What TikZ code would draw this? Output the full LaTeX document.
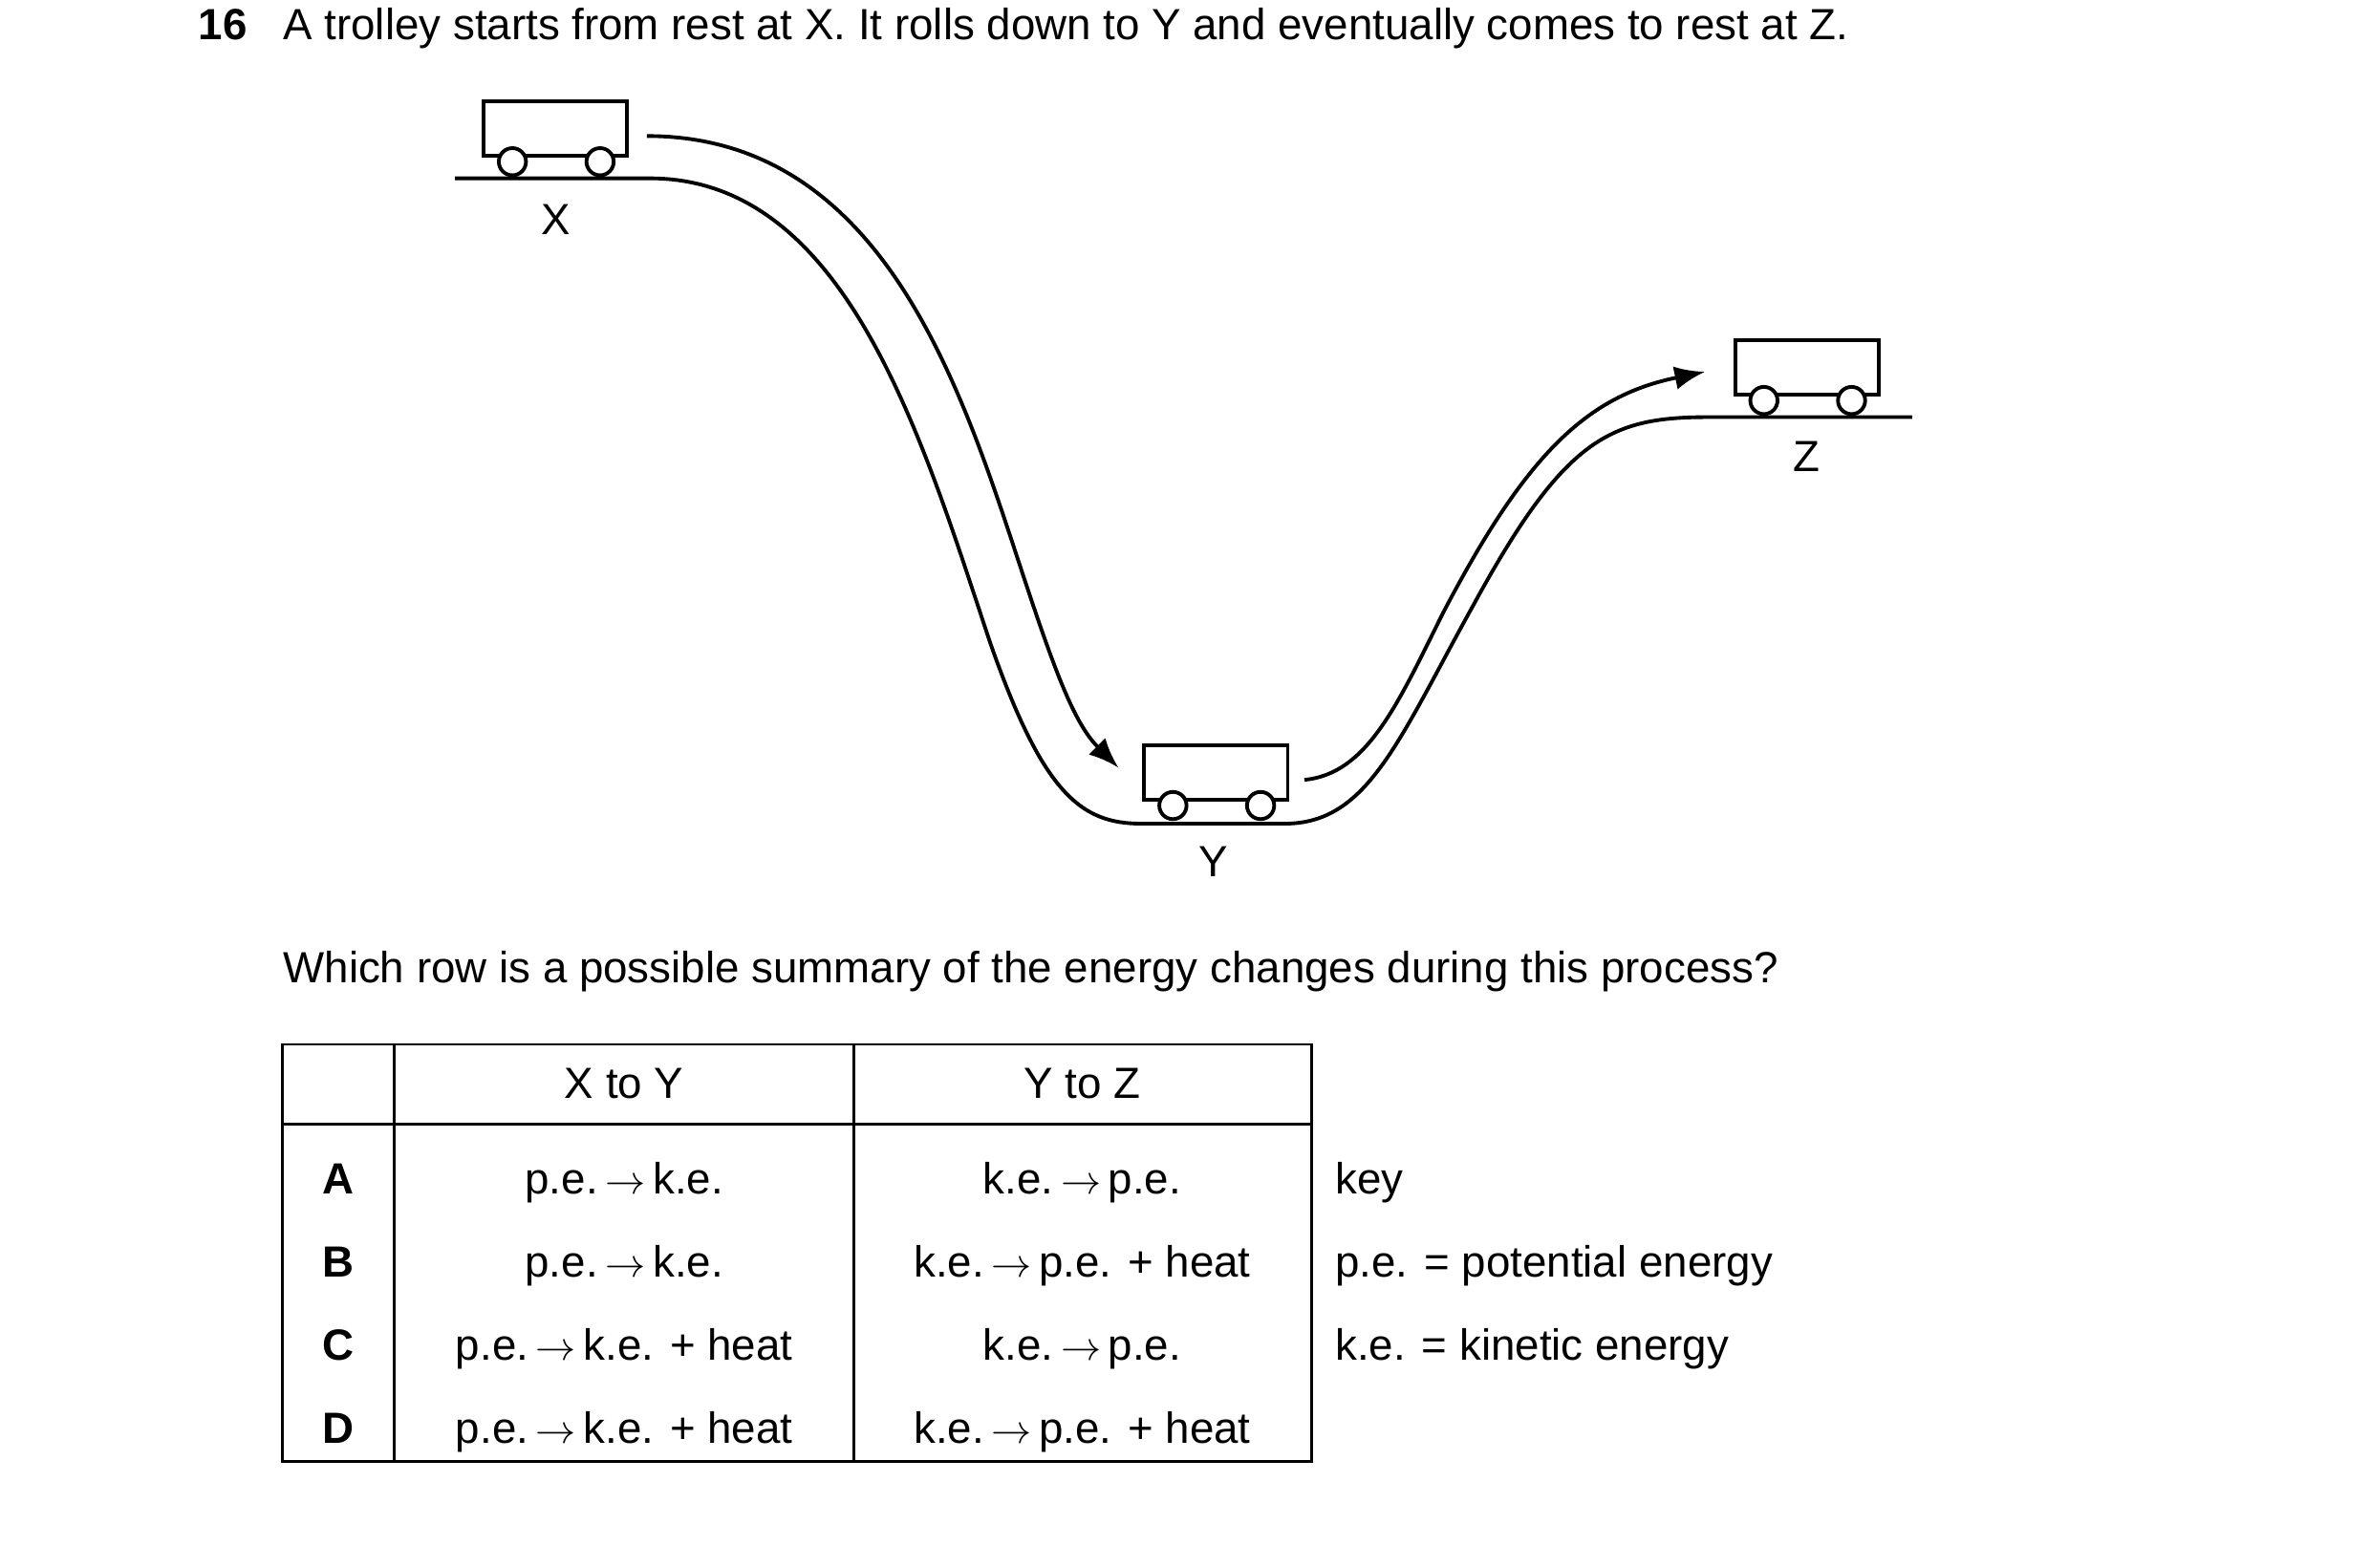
\documentclass[tikz,border=0pt]{standalone}
\usepackage{fontspec}
\setmainfont{Liberation Sans}
\usetikzlibrary{arrows.meta}
\tikzset{
  track/.style = {draw = black, line width = 1.1pt},
  % path with an arrow at its end
  arr/.style = {track, -{Latex[length=9pt,width=7pt]}},
  body/.style = {draw = black, line width = 1.1pt},
  wheel/.style = {draw = black, fill = white, line width = 1.1pt},
  txt/.style = {inner sep = 0, font = \fontsize{13}{15}\selectfont},
  cell/.style = {txt, anchor = base}
}
% trolley with its top left corner at (#2,#3)
\newcommand{\trolley}[3]{
  \draw[body] (#2,#3) rectangle ++(95,36);
  \draw[wheel] (#2+19,#3+40) circle (9);
  \draw[wheel] (#2+77,#3+40) circle (9);
  \coordinate (#1) at (#2+47,#3);
}
\newcommand{\ra}{\,$\rightarrow$\,}
\begin{document}
\begin{tikzpicture}[x=0.45pt, y=-0.45pt]
    \useasboundingbox (0,0) rectangle (1568,1037.5);

    \node[txt, anchor=base west, font=\fontsize{13}{15}\selectfont\bfseries] (num) at (131,26) {16};
    \node[txt, anchor=base west] (question) at (187,26) {A trolley starts from rest at X. It rolls down to Y and eventually comes to rest at Z.};

    % trolleys and ground
    \trolley{trolley-x}{320}{67}
    \trolley{trolley-y}{757}{493}
    \trolley{trolley-z}{1148}{225}
    \node[txt] (x) at (368,145) {X};
    \node[txt] (y) at (803,570) {Y};
    \node[txt] (z) at (1195,302) {Z};

    \coordinate (x-start) at (301,118);
    \coordinate (x-top) at (430,118);
    \coordinate (y-left) at (755,545);
    \coordinate (y-right) at (850,545);
    \coordinate (z-top) at (1130,276);
    \coordinate (z-end) at (1265,276);
    \draw[track] (x-start) -- (x-top)
      .. controls (560,118) and (610,290) .. (655,425)
      .. controls (690,525) and (715,545) .. (y-left) -- (y-right)
      .. controls (905,545) and (925,490) .. (975,400)
      .. controls (1035,290) and (1065,276) .. (z-top) -- (z-end);

    \coordinate (xy-from) at (428,90);
    \coordinate (xy-to) at (740,508);
    \coordinate (yz-from) at (863,516);
    \coordinate (yz-to) at (1128,246);
    \draw[arr] (xy-from) .. controls (590,90) and (640,270) .. (680,390)
      .. controls (700,450) and (712,480) .. (xy-to);
    \draw[arr] (yz-from) .. controls (905,512) and (925,465) .. (955,405)
      .. controls (1010,300) and (1050,262) .. (yz-to);

    \node[txt, anchor=base west] (ask) at (187,650) {Which row is a possible summary of the energy changes during this process?};

    % table
    \draw[line width=0.8pt] (187,691) rectangle (868,967);
    \draw[line width=0.8pt] (187,744) -- (868,744);
    \draw[line width=0.8pt] (261,691) -- (261,967);
    \draw[line width=0.8pt] (565,691) -- (565,967);
    \node[cell] (head-xy) at (413,727) {X to Y};
    \node[cell] (head-yz) at (716,727) {Y to Z};
    \foreach \row/\ya/\yb [count=\i] in {A/p.e.\ra k.e./k.e.\ra p.e.,
                                     B/p.e.\ra k.e./k.e.\ra p.e. + heat,
                                     C/p.e.\ra k.e. + heat/k.e.\ra p.e.,
                                     D/p.e.\ra k.e. + heat/k.e.\ra p.e. + heat} {
      \node[cell, font=\fontsize{13}{15}\selectfont\bfseries] (row-\i) at (224,735+55*\i) {\row};
      \node[cell] (xy-\i) at (413,735+55*\i) {\ya};
      \node[cell] (yz-\i) at (716,735+55*\i) {\yb};
    }
    \node[txt, anchor=base west] (key) at (883,790) {key};
    \node[txt, anchor=base west] (key-pe) at (883,845) {p.e. = potential energy};
    \node[txt, anchor=base west] (key-ke) at (883,900) {k.e. = kinetic energy};
\end{tikzpicture}
\end{document}
